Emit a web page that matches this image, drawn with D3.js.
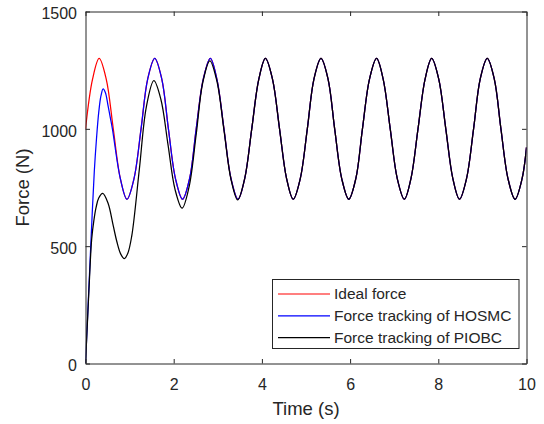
<!DOCTYPE html>
<html>
<head>
<meta charset="utf-8">
<script src="https://cdn.jsdelivr.net/npm/d3@7"></script>
<style>
  body { margin: 0; background: #fff; }
  text { font-family: "Liberation Sans", Arial, sans-serif; fill: #262626; }
</style>
</head>
<body>
<div id="chart_container"></div>
<script>
// time grid of the reference force (s)
var timeS = [0, 0.16, 0.31, 0.47, 0.63, 0.79, 0.94, 1.10,
    1.26, 1.41, 1.57, 1.73, 1.88, 2.04, 2.20, 2.36,
    2.51, 2.67, 2.83, 2.98, 3.14, 3.30, 3.46, 3.61,
    3.77, 3.93, 4.08, 4.24, 4.40, 4.56, 4.71, 4.87,
    5.03, 5.18, 5.34, 5.50, 5.65, 5.81, 5.97, 6.13,
    6.28, 6.44, 6.60, 6.75, 6.91, 7.07, 7.23, 7.38,
    7.54, 7.70, 7.85, 8.01, 8.17, 8.33, 8.48, 8.64,
    8.80, 8.95, 9.11, 9.27, 9.42, 9.58, 9.74, 9.90, 10.0]
var idealForce = [1000, 1212, 1300, 1212, 1000, 788, 700, 788,
    1000, 1212, 1300, 1212, 1000, 788, 700, 788,
    1000, 1212, 1300, 1212, 1000, 788, 700, 788,
    1000, 1212, 1300, 1212, 1000, 788, 700, 788,
    1000, 1212, 1300, 1212, 1000, 788, 700, 788,
    1000, 1212, 1300, 1212, 1000, 788, 700, 788,
    1000, 1212, 1300, 1212, 1000, 788, 700, 788,
    1000, 1212, 1300, 1212, 1000, 788, 700, 788, 921]

// start-up of HOSMC, after that it sits on the ideal force
var hosmcTime = [0, 0.05, 0.10, 0.15, 0.20, 0.25, 0.30, 0.35, 0.40, 0.45, 0.51, 0.56, 0.61]
var hosmcForce = [0, 210, 420, 630, 820, 960, 1070, 1140, 1170, 1155, 1100, 1050, 1000]

// start-up of PIOBC
var piobcTime = [0, 0.05, 0.10, 0.14, 0.19, 0.24, 0.30, 0.39, 0.51, 0.63, 0.71, 0.80, 0.88,
    0.96, 1.05, 1.22, 1.38, 1.55, 1.71, 1.87, 2.03, 2.19, 2.35, 2.51, 2.66, 2.82,
    2.98, 3.14, 3.30, 3.45]
var piobcForce = [0, 200, 400, 530, 610, 665, 705, 725, 684, 586, 520, 466, 447,
    470, 545, 826, 1094, 1205, 1125, 934, 742, 662, 754, 976, 1198, 1290,
    1203, 994, 784, 697]

var xTicks = [0, 2, 4, 6, 8, 10]
var yTicks = [0, 500, 1000, 1500]
var legendNames = ["Ideal force", "Force tracking of HOSMC", "Force tracking of PIOBC"]
var lineColors = ["#ff0000", "#0000ff", "#000000"]

var W = 544, H = 424
var left = 85.5, top_ = 11.5, w = 441, h = 352
var axisColor = "#262626"

function pairs(ts, fs) {
    return ts.map(function(t, i) { return [t, fs[i]] })
}
function withTail(ts, fs) {
    var head = pairs(ts, fs)
    var last = ts[ts.length - 1]
    var tail = pairs(timeS, idealForce).filter(function(p) { return p[0] > last + 0.05 })
    return head.concat(tail)
}

var series = [
    pairs(timeS, idealForce),
    withTail(hosmcTime, hosmcForce),
    withTail(piobcTime, piobcForce)
]

var svg = d3.select("#chart_container")
    .append("svg")
        .attr("width", W)
        .attr("height", H)

var x = d3.scaleLinear().domain([0, 10]).range([left, left + w])
var y = d3.scaleLinear().domain([0, 1500]).range([top_ + h, top_])

svg.append("clipPath").attr("id", "plotclip")
    .append("rect")
    .attr("x", left).attr("y", top_ - 2)
    .attr("width", w).attr("height", h + 2)

var line = d3.line()
    .x(function(d) { return x(d[0]) })
    .y(function(d) { return y(d[1]) })
    .curve(d3.curveCatmullRom.alpha(0.5))

svg.append("g").attr("clip-path", "url(#plotclip)")
    .selectAll("path").data(series)
    .enter()
    .append("path")
    .attr("d", line)
    .style("fill", "none")
    .style("stroke", function(d, i) { return lineColors[i] })
    .style("stroke-width", 1.25)

// axes, ticks pointing inward on all four sides
var fs = "16px"
var fmt = d3.format("d")
var gx = svg.append("g").attr("transform", "translate(0," + (top_ + h) + ")")
    .call(d3.axisBottom(x).tickValues(xTicks).tickFormat(fmt).tickSizeInner(-4.5).tickSizeOuter(0).tickPadding(14.8))
var gy = svg.append("g").attr("transform", "translate(" + left + ",0)")
    .call(d3.axisLeft(y).tickValues(yTicks).tickFormat(fmt).tickSizeInner(-4.5).tickSizeOuter(0).tickPadding(8.5))
var gt = svg.append("g").attr("transform", "translate(0," + top_ + ")")
    .call(d3.axisTop(x).tickValues(xTicks).tickSizeInner(-4.5).tickSizeOuter(0).tickFormat(""))
var gr = svg.append("g").attr("transform", "translate(" + (left + w) + ",0)")
    .call(d3.axisRight(y).tickValues(yTicks).tickSizeInner(-4.5).tickSizeOuter(0).tickFormat(""))

;[gx, gy, gt, gr].forEach(function(g) {
    g.select(".domain").style("stroke", axisColor)
    g.selectAll(".tick line").style("stroke", axisColor)
    g.selectAll("text").style("font-size", fs).style("fill", axisColor)
        .style("font-family", '"Liberation Sans", Arial, sans-serif')
})
gy.selectAll("text").attr("dy", "0.45em")

svg.append("text")
    .attr("x", left + w / 2)
    .attr("y", 415)
    .attr("text-anchor", "middle")
    .style("font-size", "18.5px")
    .text("Time (s)")

svg.append("text")
    .attr("transform", "translate(28.5," + (top_ + h / 2) + ") rotate(-90)")
    .attr("text-anchor", "middle")
    .style("font-size", "18.5px")
    .text("Force (N)")

// legend
var lg = svg.append("g")
lg.append("rect")
    .attr("x", 272.5).attr("y", 279.5)
    .attr("width", 246.5).attr("height", 69)
    .style("fill", "#fff")
    .style("stroke", axisColor)
    .style("stroke-width", 1)

var rows = lg.selectAll(".legend_row").data(legendNames)
    .enter()
    .append("g")
    .attr("class", "legend_row")
    .attr("transform", function(d, i) { return "translate(0," + (294 + i * 21.8) + ")" })

rows.append("line")
    .attr("x1", 278).attr("x2", 330)
    .attr("y1", 0).attr("y2", 0)
    .style("stroke", function(d, i) { return lineColors[i] })
    .style("stroke-width", 1.2)

rows.append("text")
    .attr("x", 334)
    .attr("y", 5.4)
    .style("font-size", "15.5px")
    .text(function(d) { return d })
</script>
</body>
</html>
